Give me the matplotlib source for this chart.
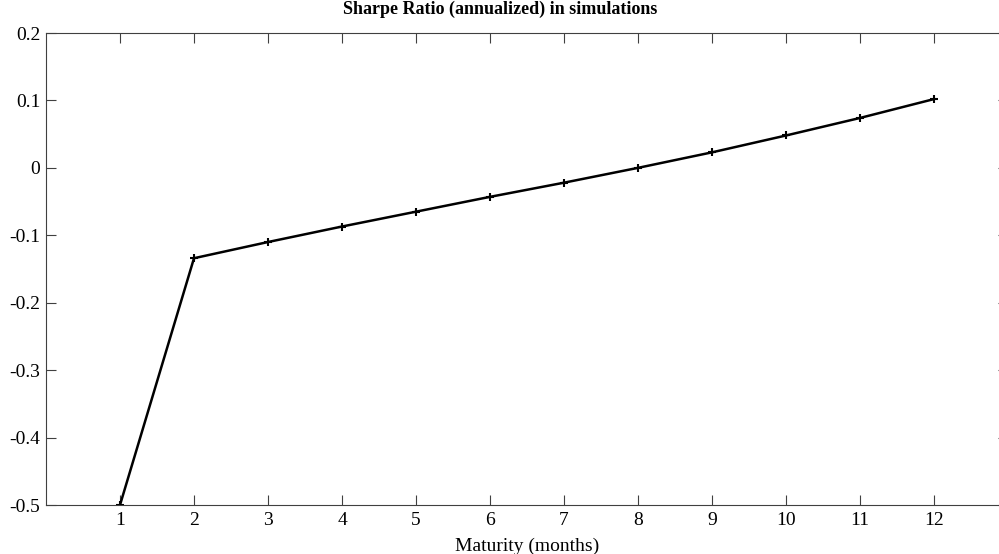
import matplotlib
matplotlib.use('Agg')
import matplotlib.pyplot as plt

# Sharpe ratio by maturity
maturity = [1, 2, 3, 4, 5, 6, 7, 8, 9, 10, 11, 12]
sharpe = [-0.5, -0.134, -0.110, -0.087, -0.065, -0.043, -0.022, 0.0, 0.023, 0.048, 0.074, 0.102]

plt.rcParams['font.family'] = ['Liberation Serif', 'DejaVu Serif']
plt.rcParams['font.size'] = 14

fig = plt.figure(figsize=(9.99, 5.54), dpi=100)
W, H = 999, 554
ax = fig.add_axes([46 / W, 1 - 505 / H, (1008 - 46) / W, (505 - 33) / H])

ax.plot(maturity, sharpe, color='black', linewidth=1.8, marker='+',
        markersize=6, markeredgewidth=1.5)

ax.set_xlim(0, 13)
ax.set_ylim(-0.5, 0.2)
ax.set_xticks(maturity)
ax.set_yticks([-0.5, -0.4, -0.3, -0.2, -0.1, 0, 0.1, 0.2])
ax.set_yticklabels(['-0.5', '-0.4', '-0.3', '-0.2', '-0.1', '0', '0.1', '0.2'])
ax.tick_params(direction='in', length=7, width=0.8, color='#404040',
               top=True, right=True)
ax.tick_params(axis='y', pad=4)
ax.tick_params(axis='x', pad=5)
for s in ax.spines.values():
    s.set_color('#404040')
    s.set_linewidth(0.8)

# title sits centred on the visible figure, not the (clipped) axes
fig.text(500 / W, 1 - 9 / H, 'Sharpe Ratio (annualized) in simulations',
         fontweight='bold', fontsize=13, ha='center', va='center')
ax.set_xlabel('Maturity (months)', fontsize=14, labelpad=6)

fig.savefig('out.png', dpi=100)
